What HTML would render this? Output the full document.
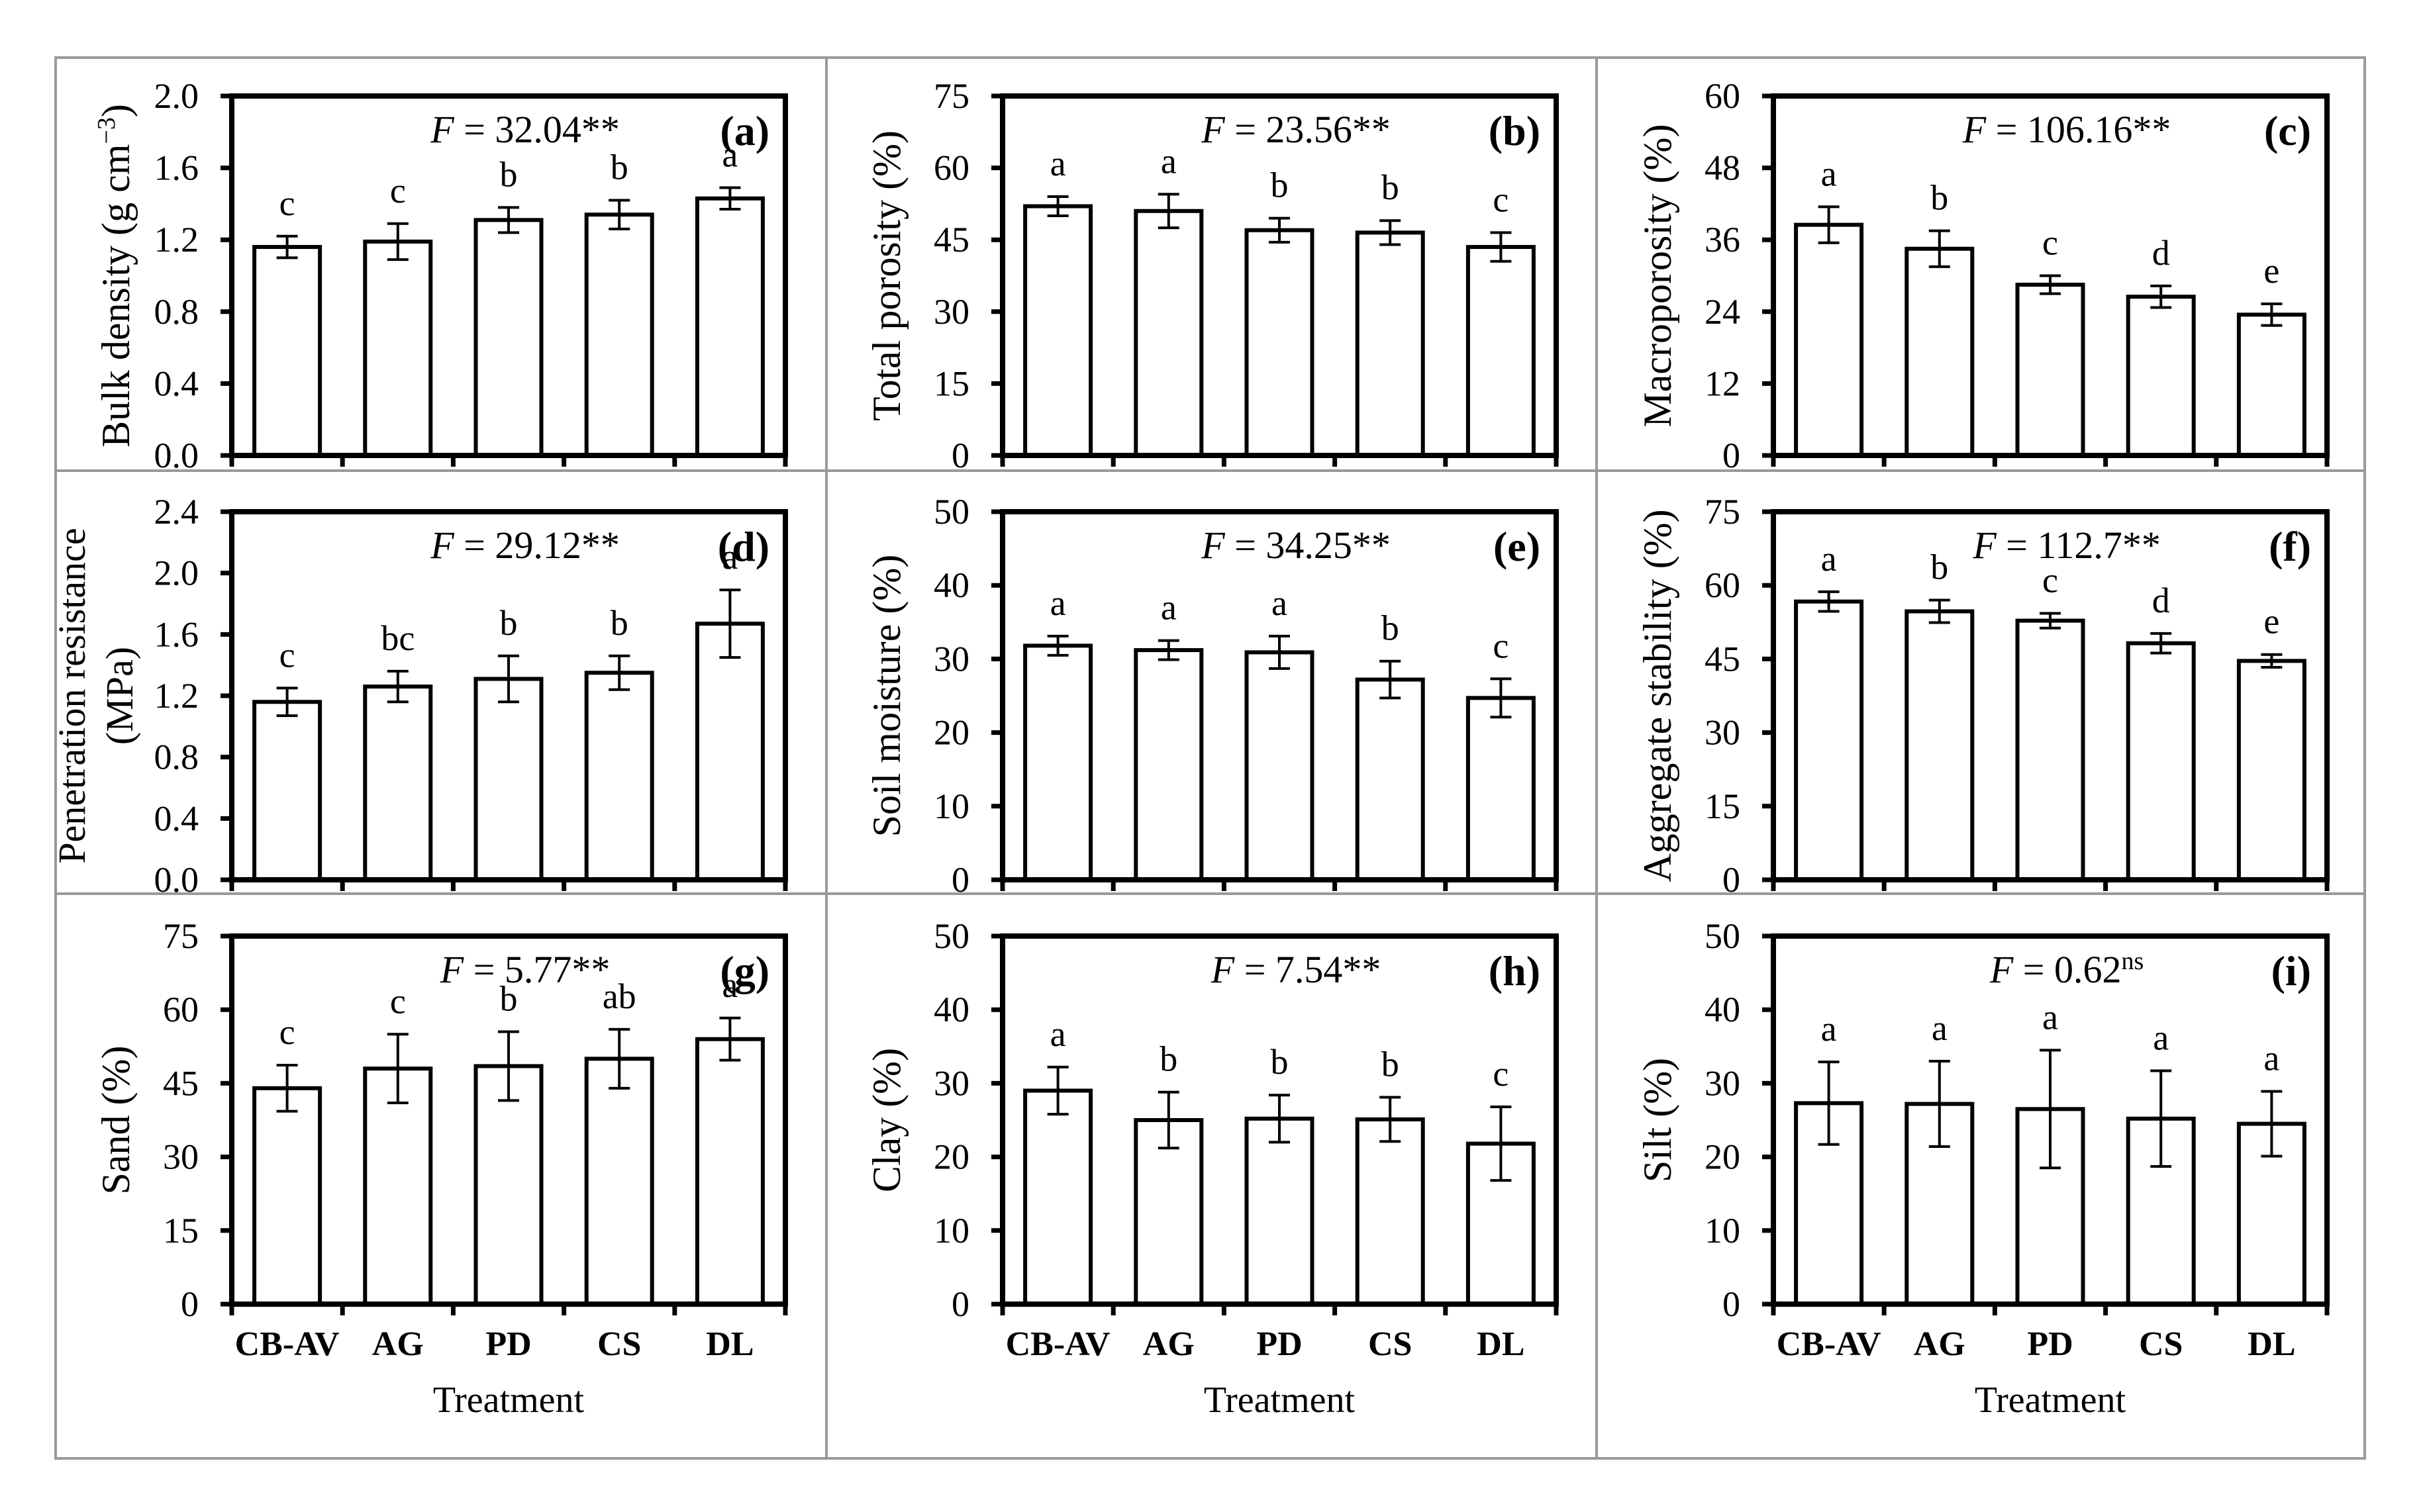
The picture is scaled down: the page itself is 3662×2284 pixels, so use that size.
<!DOCTYPE html>
<html><head><meta charset="utf-8">
<style>
html,body{margin:0;padding:0;background:#fff;}
svg{display:block;}
text{font-family:"Liberation Serif","Times New Roman",serif;fill:#000;}
</style></head>
<body>
<svg id="fig" width="3662" height="2284" viewBox="0 0 3662 2284" xmlns="http://www.w3.org/2000/svg">
<rect x="0" y="0" width="3662" height="2284" fill="#fff"/>
<g stroke="#9a9a9a" stroke-width="4" fill="none">
<rect x="84" y="87" width="3487" height="2116"/>
<line x1="1248" y1="87" x2="1248" y2="2203"/>
<line x1="2411" y1="87" x2="2411" y2="2203"/>
<line x1="84" y1="711" x2="3571" y2="711"/>
<line x1="84" y1="1350" x2="3571" y2="1350"/>
</g>
</svg>
<script>
const categories = ["CB-AV","AG","PD","CS","DL"];
const meansA = [1.16,1.19,1.31,1.34,1.43];
const errA = [0.06,0.10,0.07,0.08,0.06];
const lettersA = ["c","c","b","b","a"];
const meansB = [52,51,47,46.5,43.5];
const errB = [2,3.5,2.5,2.5,3];
const lettersB = ["a","a","b","b","c"];
const meansC = [38.5,34.5,28.5,26.5,23.5];
const errC = [3,3,1.5,1.8,1.8];
const lettersC = ["a","b","c","d","e"];
const meansD = [1.16,1.26,1.31,1.35,1.67];
const errD = [0.09,0.10,0.15,0.11,0.22];
const lettersD = ["c","bc","b","b","a"];
const meansE = [31.8,31.2,30.9,27.2,24.7];
const errE = [1.3,1.3,2.2,2.5,2.6];
const lettersE = ["a","a","a","b","c"];
const meansF = [56.7,54.7,52.8,48.2,44.6];
const errF = [2,2.3,1.5,2,1.3];
const lettersF = ["a","b","c","d","e"];
const meansG = [44,48,48.5,50,54];
const errG = [4.7,7,7,6,4.3];
const lettersG = ["c","c","b","ab","a"];
const meansH = [29,25,25.2,25.1,21.8];
const errH = [3.2,3.8,3.2,3,5];
const lettersH = ["a","b","b","b","c"];
const meansI = [27.3,27.2,26.5,25.2,24.5];
const errI = [5.6,5.8,8,6.5,4.4];
const lettersI = ["a","a","a","a","a"];
const ticks15 = ["0","15","30","45","60","75"];
const ticks10 = ["0","10","20","30","40","50"];
const ticks12 = ["0","12","24","36","48","60"];
const ticksBD = ["0.0","0.4","0.8","1.2","1.6","2.0"];
const ticksPR = ["0.0","0.4","0.8","1.2","1.6","2.0","2.4"];

const NS="http://www.w3.org/2000/svg";
const svg=document.getElementById('fig');
function mk(tag,attrs,parent){const e=document.createElementNS(NS,tag);for(const k in attrs)e.setAttribute(k,attrs[k]);(parent||svg).appendChild(e);return e;}

const panels=[
 {id:"a",col:0,row:0,means:meansA,err:errA,letters:lettersA,ticks:ticksBD,title:["Bulk density (g cm","−3",")"],F:"32.04",sup:"**"},
 {id:"b",col:1,row:0,means:meansB,err:errB,letters:lettersB,ticks:ticks15,title:["Total porosity (%)"],F:"23.56",sup:"**"},
 {id:"c",col:2,row:0,means:meansC,err:errC,letters:lettersC,ticks:ticks12,title:["Macroporosity (%)"],F:"106.16",sup:"**"},
 {id:"d",col:0,row:1,means:meansD,err:errD,letters:lettersD,ticks:ticksPR,title:["Penetration resistance","(MPa)"],F:"29.12",sup:"**"},
 {id:"e",col:1,row:1,means:meansE,err:errE,letters:lettersE,ticks:ticks10,title:["Soil moisture (%)"],F:"34.25",sup:"**"},
 {id:"f",col:2,row:1,means:meansF,err:errF,letters:lettersF,ticks:ticks15,title:["Aggregate stability (%)"],F:"112.7",sup:"**"},
 {id:"g",col:0,row:2,means:meansG,err:errG,letters:lettersG,ticks:ticks15,title:["Sand (%)"],F:"5.77",sup:"**"},
 {id:"h",col:1,row:2,means:meansH,err:errH,letters:lettersH,ticks:ticks10,title:["Clay (%)"],F:"7.54",sup:"**"},
 {id:"i",col:2,row:2,means:meansI,err:errI,letters:lettersI,ticks:ticks10,title:["Silt (%)"],F:"0.62",sup:"ns"}
];
const colL=[350,1514,2678], W=836;
const rowT=[145,773,1414], rowB=[688,1329,1970];

panels.forEach(p=>{
 const L=colL[p.col], R=L+W, T=rowT[p.row], B=rowB[p.row];
 const g=mk('g',{});
 
 
 const tmax=parseFloat(p.ticks[p.ticks.length-1]);
 const y=v=>B-(v/tmax)*(B-T);
 const slot=W/categories.length;
 const xc=i=>L+slot*(i+0.5);
 p.means.forEach((m,i)=>{
  const bw=99;
  const r=mk('rect',{x:xc(i)-bw/2,y:y(m),width:bw,height:B-y(m),fill:'#fff',stroke:'#000','stroke-width':6},g);
  
  
  const e=p.err[i], top=y(m+e), bot=y(m-e);
  const eb=mk('path',{d:`M${xc(i)},${top}V${bot}M${xc(i)-16},${top}H${xc(i)+16}M${xc(i)-16},${bot}H${xc(i)+16}`,stroke:'#000','stroke-width':4,fill:'none'},g);
  
  
  const lt=mk('text',{x:xc(i),y:top-32,'font-size':54,'text-anchor':'middle'},g);
  lt.textContent=p.letters[i];
  
  
 });
 const fr=mk('rect',{x:L,y:T,width:W,height:B-T,fill:'none',stroke:'#000','stroke-width':8},g);
 
 
 p.ticks.forEach(t=>{
  const v=parseFloat(t), yy=y(v);
  mk('line',{x1:L-17,y1:yy,x2:L,y2:yy,stroke:'#000','stroke-width':7},g);
  const tl=mk('text',{x:L-50,y:yy+18,'font-size':54,'text-anchor':'end'},g);
  tl.textContent=t;
  
  
 });
 for(let i=0;i<=categories.length;i++){
  mk('line',{x1:L+slot*i,y1:B,x2:L+slot*i,y2:B+17,stroke:'#000','stroke-width':7},g);
 }
 const cy=(T+B)/2;
 if(p.title.length===2){
  [[L-222,p.title[0]],[L-150,p.title[1]]].forEach(([xx,s])=>{
   const t=mk('text',{transform:`translate(${xx},${cy}) rotate(-90)`,'font-size':58,'text-anchor':'middle'},g);
   t.textContent=s;
   
   
  });
 } else {
  const t=mk('text',{transform:`translate(${L-155},${cy}) rotate(-90)`,'font-size':60,'text-anchor':'middle'},g);
  
  
  t.appendChild(document.createTextNode(p.title[0]));
  if(p.title.length===3){
   const s=mk('tspan',{'font-size':38,dy:-22},t); s.textContent=p.title[1];
   const s2=mk('tspan',{dy:22},t); s2.textContent=p.title[2];
  }
 }
 const ft=mk('text',{x:L+W*0.53,y:T+70,'font-size':58,'text-anchor':'middle'},g);
 
 
 const fi=mk('tspan',{'font-style':'italic'},ft); fi.textContent='F';
 ft.appendChild(document.createTextNode(' = '+p.F));
 if(p.sup==='ns'){const s=mk('tspan',{'font-size':38,dy:-20},ft); s.textContent='ns';}
 else ft.appendChild(document.createTextNode(p.sup));
 const pl=mk('text',{x:R-24,y:T+74,'font-size':64,'font-weight':'bold','text-anchor':'end'},g);
 pl.textContent='('+p.id+')';
 
 
 if(p.row===2){
  categories.forEach((c,i)=>{
   const t=mk('text',{x:xc(i),y:2047,'font-size':52,'font-weight':'bold','text-anchor':'middle'},g);
   t.textContent=c;
   
   
  });
  const xt=mk('text',{x:L+W/2,y:2133,'font-size':56,'text-anchor':'middle'},g);
  xt.textContent='Treatment';
  
  
 }
});
</script>
</body></html>
